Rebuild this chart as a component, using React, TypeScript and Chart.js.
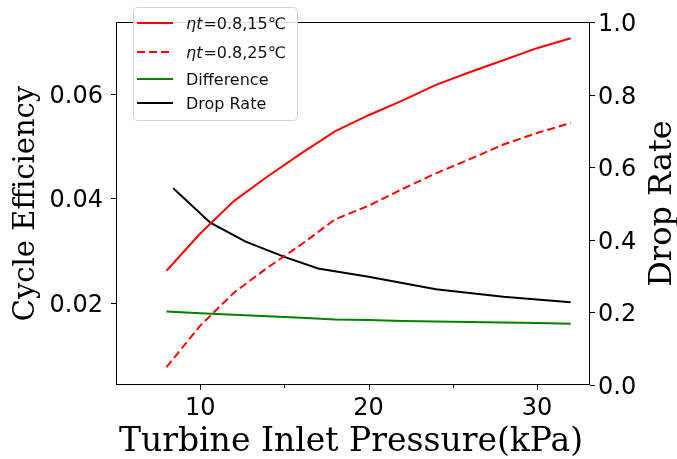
import React, { useEffect, useRef } from "react";
import { Chart, registerables } from "chart.js";

Chart.register(...registerables);

// ---- data ----
const pressure = [8, 10, 12, 14, 16, 18, 20, 22, 24, 26, 28, 30, 32];
const eff15 = [0.0262, 0.0333, 0.0395, 0.0442, 0.0486, 0.0528, 0.0559, 0.0587, 0.0617, 0.0641, 0.0664, 0.0687, 0.0706];
const eff25 = [0.0078, 0.0157, 0.022, 0.0268, 0.0312, 0.036, 0.0386, 0.0418, 0.0448, 0.0475, 0.0503, 0.0525, 0.0544];
const difference = [0.0184, 0.0181, 0.0178, 0.0175, 0.0172, 0.0169, 0.0168, 0.0166, 0.0165, 0.0164, 0.0163, 0.0162, 0.0161];
const dropPressure = [8.4, 10.6, 12.7, 15, 17, 20, 24, 28, 32];
const dropRate = [0.542, 0.447, 0.395, 0.353, 0.321, 0.298, 0.264, 0.243, 0.228];

const seriesItalic = ["ηt", "ηt", "", ""];
const seriesNames = ["=0.8,15℃", "=0.8,25℃", "Difference", "Drop Rate"];

const xTicks = [10, 20, 30];
const xTickLabels = ["10", "20", "30"];
const xMinorTicks = [15, 25];
const effTicks = [0.02, 0.04, 0.06];
const effTickLabels = ["0.02", "0.04", "0.06"];
const dropTicks = [0, 0.2, 0.4, 0.6, 0.8, 1.0];
const dropTickLabels = ["0.0", "0.2", "0.4", "0.6", "0.8", "1.0"];

const xTitle = "Turbine Inlet Pressure(kPa)";
const yTitle = "Cycle Efficiency";
const y1Title = "Drop Rate";

const TICK_FONT = '24px "DejaVu Sans"';
const TITLE_FONT = '29px "DejaVu Serif"';
const Y1TITLE_FONT = '32px "DejaVu Serif"';
const XTITLE_FONT = '33px "DejaVu Serif"';

const overlay = {
  id: "overlay",
  afterDraw(chart: any) {
    const ctx: CanvasRenderingContext2D = chart.ctx;
    const { left, right, top, bottom } = chart.chartArea;
    const xs = chart.scales.x;
    const ys = chart.scales.y;
    const y1 = chart.scales.y1;
    ctx.save();
    ctx.strokeStyle = "#000";
    ctx.lineWidth = 1;
    // frame
    ctx.strokeRect(left + 0.5, top + 0.5, right - left - 1, bottom - top - 1);

    // tick marks
    ctx.beginPath();
    xTicks.forEach((v) => {
      const px = Math.round(xs.getPixelForValue(v)) + 0.5;
      ctx.moveTo(px, bottom);
      ctx.lineTo(px, bottom + 5);
    });
    xMinorTicks.forEach((v) => {
      const px = Math.round(xs.getPixelForValue(v)) + 0.5;
      ctx.moveTo(px, bottom);
      ctx.lineTo(px, bottom + 3);
    });
    effTicks.forEach((v) => {
      const py = Math.round(ys.getPixelForValue(v)) + 0.5;
      ctx.moveTo(left - 5, py);
      ctx.lineTo(left, py);
    });
    dropTicks.forEach((v) => {
      const py = Math.round(y1.getPixelForValue(v)) + 0.5;
      ctx.moveTo(right, py);
      ctx.lineTo(right + 5, py);
    });
    ctx.stroke();

    // tick labels
    ctx.fillStyle = "#000";
    ctx.font = TICK_FONT;
    ctx.textBaseline = "alphabetic";
    ctx.textAlign = "center";
    xTicks.forEach((v, i) => {
      ctx.fillText(xTickLabels[i], xs.getPixelForValue(v), bottom + 30);
    });
    ctx.textAlign = "right";
    effTicks.forEach((v, i) => {
      ctx.fillText(effTickLabels[i], left - 13, ys.getPixelForValue(v) + 9);
    });
    ctx.textAlign = "left";
    dropTicks.forEach((v, i) => {
      ctx.fillText(dropTickLabels[i], right + 8, y1.getPixelForValue(v) + 9);
    });

    // titles
    const midY = (top + bottom) / 2;
    ctx.textAlign = "center";
    ctx.font = XTITLE_FONT;
    ctx.fillText(xTitle, (left + right) / 2 - 2, 451);
    ctx.font = TITLE_FONT;
    ctx.save();
    ctx.translate(34, midY);
    ctx.rotate(-Math.PI / 2);
    ctx.fillText(yTitle, 0, 0);
    ctx.restore();
    ctx.font = Y1TITLE_FONT;
    ctx.save();
    ctx.translate(671, midY);
    ctx.rotate(-Math.PI / 2);
    ctx.fillText(y1Title, 0, 0);
    ctx.restore();

    // legend
    const lx = 133.5, ly = 7.5, lw = 164, lh = 113;
    ctx.beginPath();
    (ctx as any).roundRect(lx, ly, lw, lh, 4);
    ctx.fillStyle = "rgba(255,255,255,0.85)";
    ctx.fill();
    ctx.strokeStyle = "rgba(204,204,204,0.9)";
    ctx.lineWidth = 1;
    ctx.stroke();
    const rowY = [23, 52, 79, 103];
    const baseY = [29, 58, 85, 109];
    chart.data.datasets.forEach((ds: any, i: number) => {
      ctx.beginPath();
      ctx.strokeStyle = ds.borderColor;
      ctx.lineWidth = 2;
      ctx.setLineDash(ds.borderDash || []);
      ctx.moveTo(137, rowY[i]);
      ctx.lineTo(173, rowY[i]);
      ctx.stroke();
      ctx.setLineDash([]);
      ctx.fillStyle = "#111";
      ctx.textAlign = "left";
      let tx = 186;
      if (seriesItalic[i]) {
        ctx.font = 'italic 16px "DejaVu Sans"';
        ctx.fillText(seriesItalic[i], tx, baseY[i]);
        tx += ctx.measureText(seriesItalic[i]).width + 1;
      }
      ctx.font = '16px "DejaVu Sans"';
      ctx.fillText(seriesNames[i], tx, baseY[i]);
    });
    ctx.restore();
  },
};

export default function App() {
  const ref = useRef<HTMLCanvasElement | null>(null);
  useEffect(() => {
    document.body.style.margin = "0";
    const canvas = ref.current;
    if (!canvas) return;
    const pts = (xs: number[], ys: number[]) => xs.map((x, i) => ({ x, y: ys[i] }));
    const chart = new Chart(canvas, {
      type: "line",
      data: {
        datasets: [
          { label: "ηt=0.8,15℃", data: pts(pressure, eff15), borderColor: "#ff0000", borderWidth: 2, pointRadius: 0, yAxisID: "y", tension: 0 },
          { label: "ηt=0.8,25℃", data: pts(pressure, eff25), borderColor: "#ff0000", borderDash: [8, 4], borderWidth: 2, pointRadius: 0, yAxisID: "y", tension: 0 },
          { label: "Difference", data: pts(pressure, difference), borderColor: "#008000", borderWidth: 2, pointRadius: 0, yAxisID: "y", tension: 0 },
          { label: "Drop Rate", data: pts(dropPressure, dropRate), borderColor: "#000000", borderWidth: 2, pointRadius: 0, yAxisID: "y1", tension: 0 },
        ],
      },
      options: {
        animation: false,
        responsive: false,
        layout: { padding: { top: 22, left: 0, right: 0, bottom: 0 } },
        plugins: { legend: { display: false }, tooltip: { enabled: false } },
        scales: {
          x: {
            type: "linear",
            min: 5,
            max: 33.15,
            ticks: { display: false },
            grid: { display: false },
            border: { display: false },
            afterFit: (s: any) => { s.height = 74; },
          },
          y: {
            type: "linear",
            position: "left",
            min: 0.00438,
            max: 0.0737,
            ticks: { display: false },
            grid: { display: false },
            border: { display: false },
            afterFit: (s: any) => { s.width = 116; },
          },
          y1: {
            type: "linear",
            position: "right",
            min: 0,
            max: 1,
            ticks: { display: false },
            grid: { display: false },
            border: { display: false },
            afterFit: (s: any) => { s.width = 87; },
          },
        },
      },
      plugins: [overlay],
    } as any);
    return () => chart.destroy();
  }, []);
  return (
    <div style={{ position: "fixed", left: 0, top: 0, width: 677, height: 459, background: "#fff" }}>
      <canvas ref={ref} width={677} height={459} style={{ display: "block" }} />
    </div>
  );
}
